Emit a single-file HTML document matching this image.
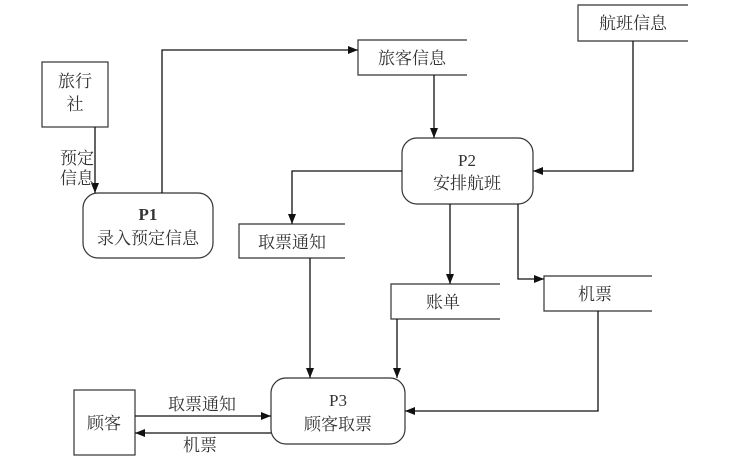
<!DOCTYPE html>
<html><head><meta charset="utf-8"><style>
html,body{margin:0;padding:0;background:#fff;}
svg text{font-family:"Liberation Serif","Noto Serif CJK SC","Noto Sans CJK SC",serif;font-size:17px;fill:#333;text-anchor:middle;}
</style></head><body>
<svg width="733" height="459" viewBox="0 0 733 459" xmlns="http://www.w3.org/2000/svg">
<defs><marker id="a" markerWidth="10" markerHeight="8" refX="10" refY="4" orient="auto" markerUnits="userSpaceOnUse"><path d="M0,0 L10,4 L0,8 z" fill="#111"/></marker></defs>
<g stroke="#333" stroke-width="1.2" fill="none">
<rect x="42" y="62" width="66" height="65"/>
<rect x="83" y="193" width="130" height="65" rx="15"/>
<rect x="402" y="138" width="131" height="66" rx="15"/>
<rect x="271" y="378" width="134" height="66" rx="15"/>
<rect x="74" y="390" width="61" height="65"/>
<path d="M467,40 H358 V75 H467"/>
<path d="M688,5 H578 V41 H688"/>
<path d="M345,224 H239 V258 H345"/>
<path d="M500,284 H391 V319 H500"/>
<path d="M652,276 H544 V311 H652"/>
</g>
<g stroke="#111" stroke-width="1.3" fill="none" marker-end="url(#a)">
<path d="M95,127 V193"/>
<path d="M162,193 V50 H358"/>
<path d="M434,75 V138"/>
<path d="M633,41 V171 H533"/>
<path d="M402,171 H292 V224"/>
<path d="M310,258 V378"/>
<path d="M450,204 V284"/>
<path d="M518,204 V279 H544"/>
<path d="M397,319 V378"/>
<path d="M598,311 V411 H405"/>
<path d="M135,416 H271"/>
<path d="M271,433 H135"/>
</g>
<text x="75" y="87">旅行</text><text x="75" y="110">社</text>
<text x="77" y="164">预定</text><text x="77" y="184">信息</text>
<text x="148" y="220" font-weight="bold">P1</text><text x="148" y="244">录入预定信息</text>
<text x="412" y="64">旅客信息</text>
<text x="633" y="29">航班信息</text>
<text x="467" y="166">P2</text><text x="467" y="189">安排航班</text>
<text x="292" y="248">取票通知</text>
<text x="443" y="308">账单</text>
<text x="595" y="300">机票</text>
<text x="338" y="406">P3</text><text x="338" y="430">顾客取票</text>
<text x="104" y="429">顾客</text>
<text x="202" y="410">取票通知</text>
<text x="200" y="451">机票</text>
</svg>
</body></html>
